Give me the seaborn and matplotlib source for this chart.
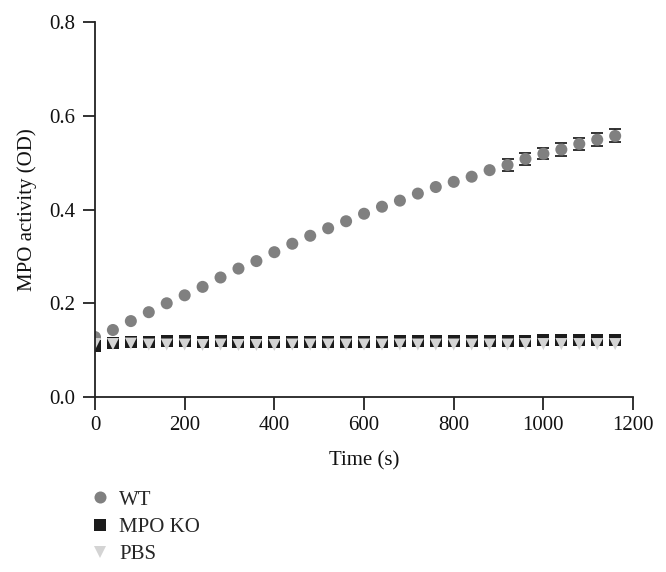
"""
MPO activity over time (WT / MPO KO / PBS)
"""
import numpy as np
import pandas as pd
import matplotlib
matplotlib.use('Agg')
import matplotlib.pyplot as plt
import seaborn as sns

# ============================
# data
# ============================
time_s = list(range(0, 1200, 40))

wt = [0.128, 0.143, 0.162, 0.181, 0.200, 0.217, 0.235, 0.255, 0.274, 0.290,
      0.309, 0.327, 0.344, 0.360, 0.375, 0.391, 0.406, 0.419, 0.434, 0.448,
      0.459, 0.470, 0.484, 0.495, 0.508, 0.519, 0.528, 0.540, 0.549, 0.557]
# SEM, only the late points have bars bigger than the marker
wt_err = [0, 0, 0, 0, 0, 0, 0, 0, 0, 0,
          0, 0, 0, 0, 0, 0, 0, 0, 0, 0,
          0, 0, 0, 0.012, 0.012, 0.012, 0.013, 0.013, 0.014, 0.014]

mpo_ko = [0.108, 0.115, 0.117, 0.118, 0.120, 0.119, 0.118, 0.119, 0.117, 0.117,
          0.118, 0.117, 0.118, 0.118, 0.118, 0.118, 0.118, 0.119, 0.119, 0.119,
          0.120, 0.120, 0.120, 0.120, 0.120, 0.121, 0.122, 0.122, 0.121, 0.122]

pbs = [0.113, 0.113, 0.114, 0.112, 0.112, 0.112, 0.111, 0.112, 0.111, 0.111,
       0.111, 0.112, 0.112, 0.112, 0.112, 0.112, 0.112, 0.112, 0.112, 0.112,
       0.112, 0.112, 0.112, 0.112, 0.113, 0.113, 0.113, 0.113, 0.113, 0.113]

groups = ['WT', 'MPO KO', 'PBS']
colors = {'WT': '#808080', 'MPO KO': '#1c1c1c', 'PBS': '#d4d4d4'}
markers = {'WT': 'o', 'MPO KO': 's', 'PBS': 'v'}

df = pd.DataFrame({
    'time': time_s * 3,
    'value': wt + mpo_ko + pbs,
    'group': ['WT'] * len(wt) + ['MPO KO'] * len(mpo_ko) + ['PBS'] * len(pbs),
})

# ============================
# plot
# ============================
sns.set_style('ticks')
plt.rcParams['font.family'] = ['Liberation Serif', 'DejaVu Serif']
plt.rcParams['axes.edgecolor'] = '#222222'

fig = plt.figure(figsize=(6.66, 5.72), dpi=100)
ax = fig.add_axes([0.1426, 0.3059, 0.808, 0.6556])

# error bars (WT), drawn only where the SEM is non-zero
t_arr = np.array(time_s)
e_arr = np.array(wt_err)
w_arr = np.array(wt)
has_err = e_arr > 0
ax.errorbar(t_arr[has_err], w_arr[has_err], yerr=e_arr[has_err], fmt='none',
            ecolor='#222222', elinewidth=1.2, capsize=4, capthick=1.3, zorder=1)

sns.scatterplot(data=df, x='time', y='value', hue='group', style='group',
                hue_order=groups, style_order=groups,
                palette=colors, markers=markers, s=75, linewidth=0,
                ax=ax, zorder=2)

ax.set_xlim(0, 1200)
ax.set_ylim(0, 0.8)
ax.set_xticks([0, 200, 400, 600, 800, 1000, 1200])
ax.set_yticks([0.0, 0.2, 0.4, 0.6, 0.8])
ax.yaxis.set_major_formatter(matplotlib.ticker.FormatStrFormatter('%.1f'))
ax.tick_params(axis='both', labelsize=15, length=9, width=1.3,
               color='#222222', labelcolor='#111111', pad=5)
for side in ['left', 'bottom']:
    ax.spines[side].set_linewidth(1.3)
sns.despine(ax=ax)

ax.set_xlabel('Time (s)', fontsize=15, color='#111111', labelpad=11)
ax.set_ylabel('MPO activity (OD)', fontsize=15, color='#111111', labelpad=9)

leg = ax.legend(loc='upper left', bbox_to_anchor=(0.138, 0.143),
                bbox_transform=fig.transFigure, frameon=False,
                fontsize=15, handletextpad=0.5, labelspacing=0.36,
                borderpad=0, borderaxespad=0, handlelength=0.8)

fig.savefig('out.png', dpi=100)
